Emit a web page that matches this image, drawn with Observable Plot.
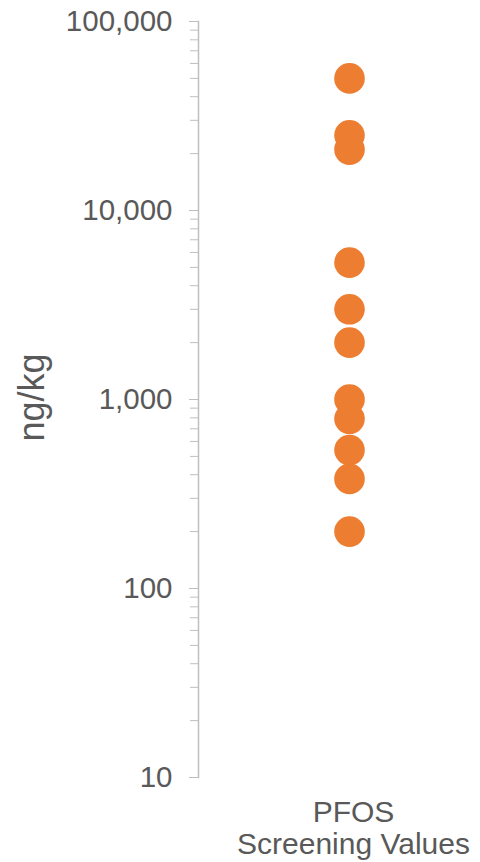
<!DOCTYPE html>
<html>
<head>
<meta charset="utf-8">
<script src="https://cdn.jsdelivr.net/npm/d3@7"></script>
<script src="https://cdn.jsdelivr.net/npm/@observablehq/plot@0.6"></script>
<style>
  html, body { margin: 0; padding: 0; background: #fff; }
</style>
</head>
<body>
<div id="chart"></div>
<script>
// PFOS screening values (ng/kg), one category on a log axis
const categories = ["PFOS Screening Values"];
const pfosValues = [50000, 25000, 21000, 5300, 3000, 2000, 1000, 790, 540, 380, 200];
const majorTicks = [10, 100, 1000, 10000, 100000];
const minorSteps = [2, 3, 4, 5, 6, 7, 8, 9];
const yLabel = ["ng/kg"];

const minorTicks = majorTicks.slice(0, -1).flatMap(d => minorSteps.map(s => d * s));
const rows = pfosValues.map(v => ({category: categories[0], value: v}));

const gray = "#595959";
const axisGray = "#BFBFBF";

const chart = Plot.plot({
  width: 480,
  height: 862,
  marginLeft: 198,
  marginRight: 0,
  marginTop: 21,
  marginBottom: 85,
  style: {fontFamily: "'Liberation Sans', Arial, sans-serif", background: "#fff", color: gray},
  x: {type: "point", domain: categories, range: [349, 349]},
  y: {type: "log", domain: [10, 100000]},
  marks: [
    Plot.axisY(minorTicks, {tickSize: 8, tickFormat: () => "", stroke: axisGray, label: null}),
    Plot.axisY(majorTicks, {
      tickSize: 9, tickPadding: 17, tickFormat: d3.format(","),
      fontSize: 29.5, fill: gray, stroke: axisGray, label: null
    }),
    Plot.frame({anchor: "left", stroke: axisGray, strokeWidth: 1.5}),
    Plot.axisX({
      tickSize: 0, tickPadding: 21, fontSize: 30, lineHeight: 1.08, dx: 4,
      fill: gray, label: null, tickFormat: d => d.replace(" ", "\n")
    }),
    Plot.text(yLabel, {
      frameAnchor: "left", textAnchor: "middle", dx: -155, dy: -2, rotate: -90,
      lineAnchor: "bottom", fontSize: 36, fill: gray
    }),
    Plot.dot(rows, {x: "category", y: "value", r: 15.3, fill: "#ED7D31", stroke: null})
  ]
});

document.getElementById("chart").append(chart);
</script>
</body>
</html>
